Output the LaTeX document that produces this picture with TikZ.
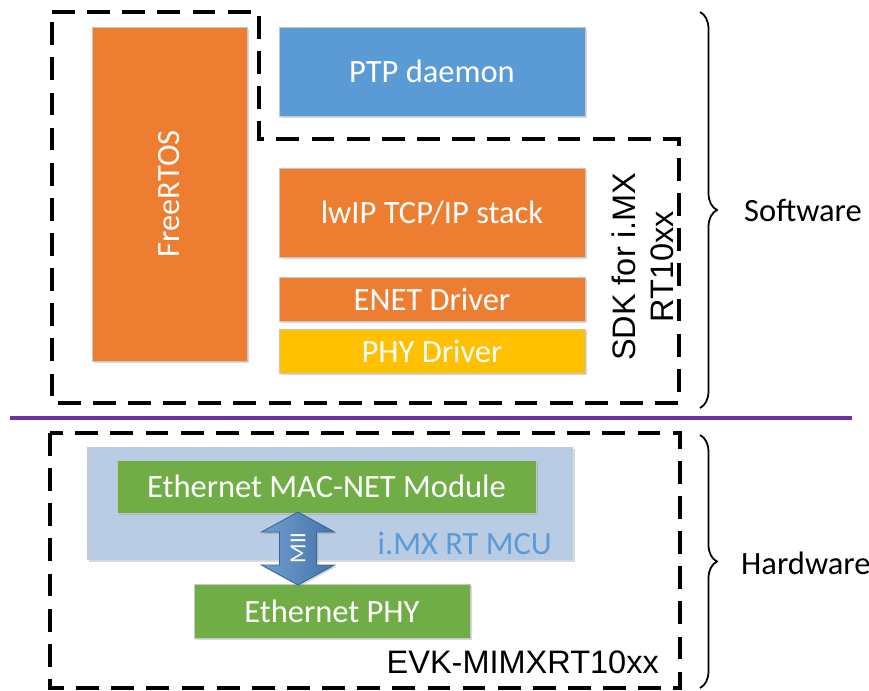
\documentclass[tikz,border=0pt]{standalone}
\usepackage{fontspec}
\setmainfont{Carlito}
\newfontfamily\arialfont{Liberation Sans}
\usetikzlibrary{positioning, shadows, decorations.pathreplacing}

\definecolor{rtorange}{HTML}{ED7D31}
\definecolor{ptpblue}{HTML}{5B9BD5}
\definecolor{phyyellow}{HTML}{FFC000}
\definecolor{ethgreen}{HTML}{70AD47}
\definecolor{mcublue}{HTML}{B8CCE4}
\definecolor{miiblue}{HTML}{4F87C6}
\definecolor{sepviolet}{HTML}{7030A0}

\newcommand{\boxfont}{\fontsize{18.5}{22}\selectfont}
\newcommand{\sdkfont}{\arialfont\fontsize{18.5}{22}\selectfont}
\newcommand{\miifont}{\fontsize{13}{15}\selectfont}

\begin{document}
\begin{tikzpicture}[
    x=0.02cm, y=-0.02cm,
    block/.style={rectangle, draw=black!22, line width=0.5pt, text=white, font=\boxfont, inner sep=0pt, outer sep=0pt, minimum width=306*0.02cm, drop shadow={shadow xshift=1.2pt, shadow yshift=-1.2pt, opacity=0.3}},
    outline/.style={draw=black, line width=2.2pt, dash pattern=on 13pt off 7pt},
    brc/.style={decorate, decoration={brace, amplitude=0.34cm}, line width=1pt},
    side/.style={font=\boxfont, anchor=west}
]
\useasboundingbox (0,0) rectangle (869,690);

% software stack
\node[block, fill=rtorange, anchor=north west, minimum width=155*0.02cm, minimum height=334*0.02cm] (freertos) at (92,27) {};
\node[rotate=90, text=white, font=\boxfont] (freertoslbl) at (freertos.center) {FreeRTOS};
\node[block, fill=ptpblue, anchor=north west, minimum height=89*0.02cm] (ptp) at (279,27) {PTP daemon};
\node[block, fill=rtorange, anchor=north west, minimum height=89*0.02cm] (lwip) at (279,168) {lwIP TCP/IP stack};
\node[block, fill=rtorange, minimum height=44*0.02cm, below=0.4cm of lwip] (enet) {ENET Driver};
\node[block, fill=phyyellow, minimum height=44*0.02cm, below=0.16cm of enet] (phydrv) {PHY Driver};
\node[rotate=90, align=center, font=\sdkfont] (sdk) at (643,267) {SDK for i.MX\\RT10xx};

\draw[outline] (52,12) -- (259,12) -- (259,139) -- (679,139) -- (679,403) -- (52,403) -- cycle;

% separator
\draw[line width=2pt, draw=sepviolet] (10,418) -- (852,418);

% hardware
\node[rectangle, fill=mcublue, anchor=north west, inner sep=0pt, minimum width=486*0.02cm, minimum height=113*0.02cm, drop shadow={shadow xshift=1.2pt, shadow yshift=-1.2pt, opacity=0.3}] (mcu) at (87,447) {};
\node[anchor=east, text=ptpblue, font=\boxfont] (mculbl) at (558,543) {i.MX RT MCU};
\node[block, fill=ethgreen, anchor=north west, minimum width=419*0.02cm, minimum height=53*0.02cm] (mac) at (117,460) {Ethernet MAC-NET Module};
\node[block, fill=ethgreen, anchor=north west, minimum width=276*0.02cm, minimum height=54*0.02cm] (ethphy) at (194,584) {Ethernet PHY};

\coordinate (miitop) at (298,512);
\coordinate (miibot) at (298,585);
\draw[left color=miiblue!80!white, right color=miiblue!85!black, draw=miiblue!75!black, line width=0.5pt, drop shadow={shadow xshift=1pt, shadow yshift=-1pt, opacity=0.3}]
  (miitop) -- ++(36.5,20) -- ++(-18,0) -- ++(0,33) -- ++(18,0) -- (miibot)
  -- ++(-36.5,-20) -- ++(18,0) -- ++(0,-33) -- ++(-18,0) -- cycle;
\node[rotate=90, text=white, font=\miifont] (mii) at (298,548) {MII};

\draw[outline] (50,433) rectangle (680,688);
\node[anchor=east, font=\sdkfont] (evk) at (665,662) {EVK-MIMXRT10xx};

% braces
\coordinate (swtop) at (700,12);
\coordinate (swbot) at (700,408);
\coordinate (hwtop) at (700,435);
\coordinate (hwbot) at (700,688);
\draw[brc] (swtop) -- (swbot);
\draw[brc] (hwtop) -- (hwbot);
\node[side] (sw) at (738,210) {Software};
\node[side] (hw) at (735,563) {Hardware};
\end{tikzpicture}
\end{document}
